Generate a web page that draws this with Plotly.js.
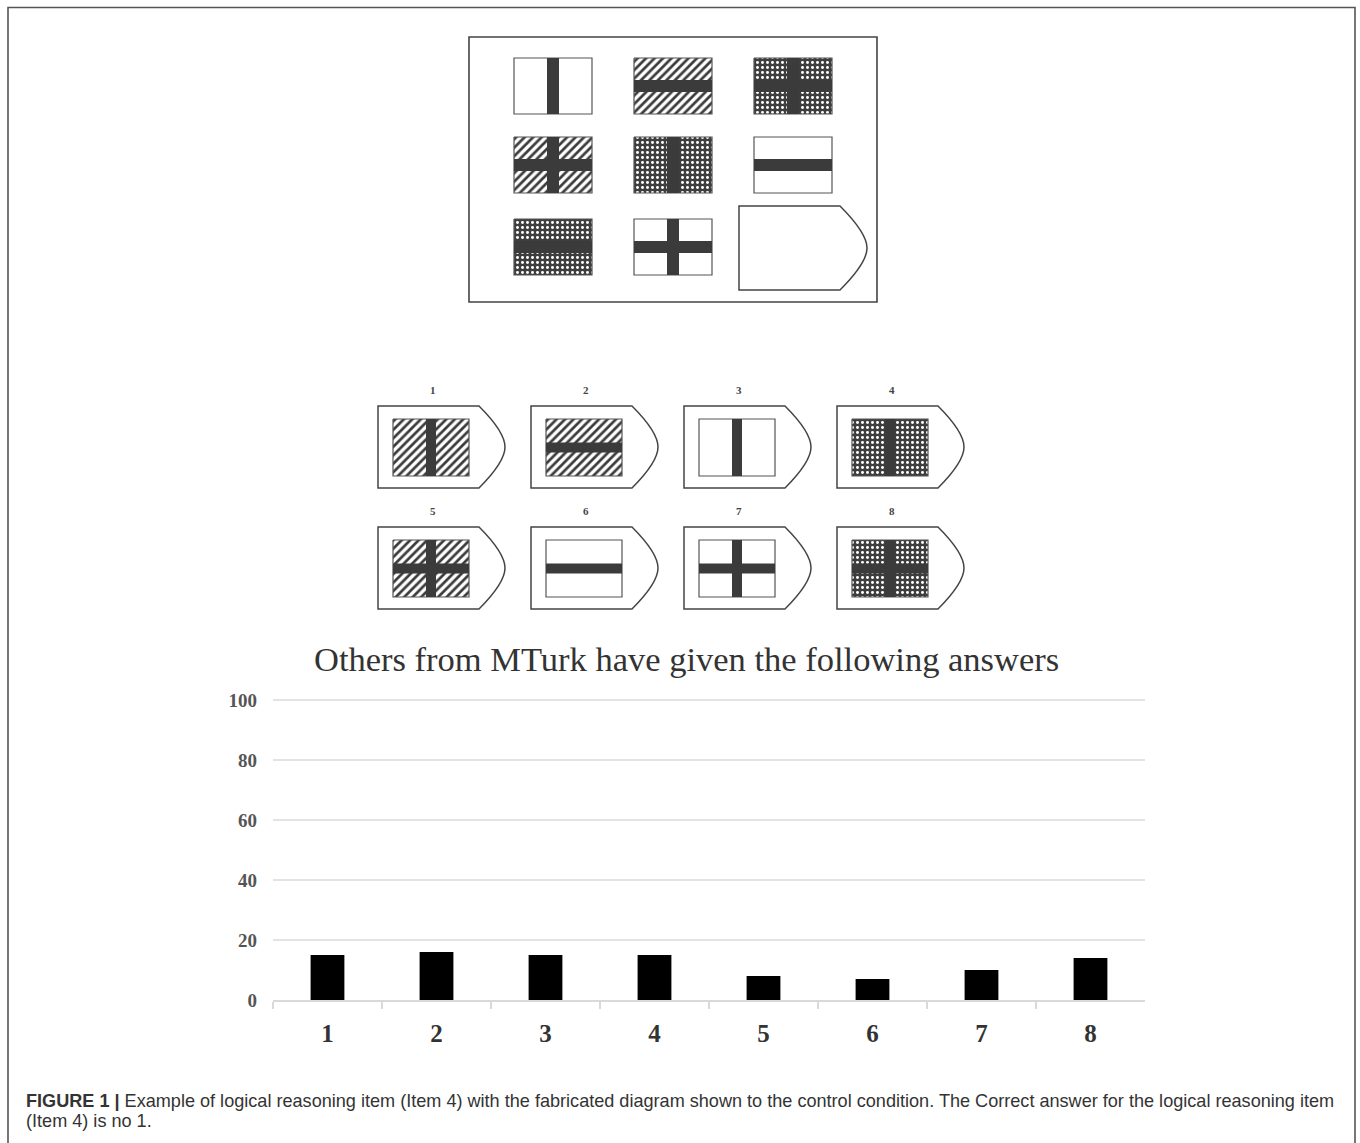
<!DOCTYPE html>
<html>
<head>
<meta charset="utf-8">
<script src="https://cdn.plot.ly/plotly-3.0.1.min.js"></script>
<style>
html,body{margin:0;padding:0;background:#fff;}
#chart{width:1360px;height:1143px;}
</style>
</head>
<body>
<div id="chart"></div>
<script>
// ---- data ----
const answerOptions = ['1', '2', '3', '4', '5', '6', '7', '8'];
const answerPercent = [15, 16, 15, 15, 8, 7, 10, 14];
const yTickVals = [0, 20, 40, 60, 80, 100];
const chartTitle = 'Others from MTurk have given the following answers';
const captionBold = 'FIGURE 1 |';
const captionLine1 = ' Example of logical reasoning item (Item 4) with the fabricated diagram shown to the control condition. The Correct answer for the logical reasoning item';
const captionLine2 = '(Item 4) is no 1.';

// puzzle matrix cells: [fill pattern, bar type]
const matrixCells = [
  ['plain', 'v'], ['hatch', 'h'], ['dots', 'c'],
  ['hatch', 'c'], ['dots', 'v'], ['plain', 'h'],
  ['dots', 'h'], ['plain', 'c'], null
];
// answer options: [fill pattern, bar type]
const answerCells = [
  ['hatch', 'v'], ['hatch', 'h'], ['plain', 'v'], ['dots', 'v'],
  ['hatch', 'c'], ['plain', 'h'], ['plain', 'c'], ['dots', 'c']
];

// ---- page geometry ----
const W = 1360, H = 1143;
const DARK = '#3b3b3b';
const SERIF = 'Liberation Serif, Times New Roman, serif';
const SANS = 'Liberation Sans, Arial, sans-serif';
const Y_MAX = 101;

const traces = [];
const shapes = [];
const annotations = [];

// bar chart
traces.push({
  type: 'bar',
  x: answerOptions,
  y: answerPercent,
  width: 0.31,
  marker: {color: '#000000', line: {width: 0}},
  xaxis: 'x', yaxis: 'y',
  hoverinfo: 'x+y',
  showlegend: false
});

function pattern(kind) {
  if (kind === 'hatch') return {shape: '/', fgcolor: DARK, bgcolor: '#ffffff', size: 6, solidity: 0.45, fillmode: 'replace'};
  if (kind === 'dots') return {shape: '.', fgcolor: '#ffffff', bgcolor: '#3e3e3e', size: 5, solidity: 0.28, fillmode: 'replace'};
  return null;
}

function drawFlag(x, y, w, h, kind, bar, bw) {
  if (kind === 'plain') {
    shapes.push({type: 'rect', xref: 'x2', yref: 'y2', x0: x, x1: x + w, y0: y, y1: y + h,
      fillcolor: '#ffffff', line: {color: '#555', width: 1.2}, layer: 'below'});
  } else {
    traces.push({
      type: 'scatter', mode: 'lines', xaxis: 'x2', yaxis: 'y2',
      x: [x, x + w, x + w, x, x], y: [y, y, y + h, y + h, y],
      fill: 'toself', fillcolor: kind === 'dots' ? '#3e3e3e' : '#ffffff',
      fillpattern: pattern(kind),
      line: {color: '#555', width: 1.2},
      hoverinfo: 'skip', showlegend: false
    });
  }
  if (bar === 'v' || bar === 'c') {
    shapes.push({type: 'rect', xref: 'x2', yref: 'y2', x0: x + w / 2 - bw / 2, x1: x + w / 2 + bw / 2,
      y0: y, y1: y + h, fillcolor: DARK, line: {width: 0}, layer: 'above'});
  }
  if (bar === 'h' || bar === 'c') {
    shapes.push({type: 'rect', xref: 'x2', yref: 'y2', x0: x, x1: x + w,
      y0: y + h / 2 - bw / 2, y1: y + h / 2 + bw / 2, fillcolor: DARK, line: {width: 0}, layer: 'above'});
  }
}

function tagPath(x, y, w, h, e) {
  const t = w, d = t - e;
  return `M${x},${y} L${x + e},${y} Q${x + t},${y + d} ${x + t},${y + h / 2} Q${x + t},${y + h - d} ${x + e},${y + h} L${x},${y + h} Z`;
}

// outer frame
shapes.push({type: 'path', xref: 'x2', yref: 'y2', path: `M8,1150 L8,7.5 L1355,7.5 L1355,1150`,
  line: {color: '#555', width: 1.6}, layer: 'below'});

// matrix box
shapes.push({type: 'rect', xref: 'x2', yref: 'y2', x0: 469, x1: 877, y0: 37, y1: 302,
  line: {color: '#444', width: 1.6}, fillcolor: 'rgba(0,0,0,0)', layer: 'below'});

const mColX = [514, 634, 754];
const mRowY = [58, 137, 219];
matrixCells.forEach((c, i) => {
  const r = Math.floor(i / 3), k = i % 3;
  if (c) {
    drawFlag(mColX[k], mRowY[r], 78, 56, c[0], c[1], 12);
  } else {
    shapes.push({type: 'path', xref: 'x2', yref: 'y2', path: tagPath(739, 206, 128, 84, 101),
      fillcolor: '#ffffff', line: {color: '#444', width: 1.5}, layer: 'below'});
  }
});

// answer options
const aColX = [378, 531, 684, 837];
const aRowY = [406, 527];
answerCells.forEach((c, i) => {
  const r = Math.floor(i / 4), k = i % 4;
  const x = aColX[k], y = aRowY[r];
  shapes.push({type: 'path', xref: 'x2', yref: 'y2', path: tagPath(x, y, 127, 82, 101),
    fillcolor: '#ffffff', line: {color: '#444', width: 1.5}, layer: 'below'});
  drawFlag(x + 15, y + 13, 76, 57, c[0], c[1], 10);
  annotations.push({xref: 'x2', yref: 'y2', x: x + 55, y: y - 16, text: '<b>' + answerOptions[i] + '</b>',
    showarrow: false, font: {family: SERIF, size: 11, color: '#444'}, xanchor: 'center', yanchor: 'middle'});
});

// chart title
annotations.push({xref: 'paper', yref: 'paper', x: 686 / W, y: 1 - 659 / H, text: chartTitle,
  showarrow: false, xanchor: 'center', yanchor: 'middle',
  font: {family: SERIF, size: 34.5, color: '#333'}});

// caption
annotations.push({xref: 'paper', yref: 'paper', x: 24 / W, y: 1 - 1101 / H,
  text: '<b>' + captionBold + '</b>' + captionLine1,
  showarrow: false, xanchor: 'left', yanchor: 'middle', align: 'left',
  font: {family: SANS, size: 18.1, color: '#333'}});
annotations.push({xref: 'paper', yref: 'paper', x: 24 / W, y: 1 - 1121 / H,
  text: captionLine2,
  showarrow: false, xanchor: 'left', yanchor: 'middle', align: 'left',
  font: {family: SANS, size: 18.1, color: '#333'}});

const layout = {
  width: W, height: H,
  margin: {l: 0, r: 0, t: 0, b: 0, pad: 0},
  paper_bgcolor: '#ffffff',
  plot_bgcolor: 'rgba(0,0,0,0)',
  showlegend: false,
  xaxis: {
    domain: [273 / W, 1145 / W],
    type: 'category',
    range: [-0.5, 7.5],
    showgrid: false,
    showline: true, linecolor: '#d9d9d9', linewidth: 1.5,
    ticks: 'outside', tickson: 'boundaries', ticklen: 7, tickcolor: '#d9d9d9', tickwidth: 1.5,
    tickfont: {family: SERIF, size: 25, color: '#333', weight: 'bold'},
    ticklabelstandoff: 10,
    fixedrange: true
  },
  yaxis: {
    domain: [1 - 1000 / H, 1 - (1000 - Y_MAX * 3) / H],
    range: [0, Y_MAX],
    tickvals: yTickVals,
    showgrid: true, gridcolor: '#e3e3e3', gridwidth: 1.5,
    zeroline: false,
    showline: false,
    ticks: '',
    tickfont: {family: SERIF, size: 19, color: '#555', weight: 'bold'},
    ticklabelstandoff: 15,
    fixedrange: true
  },
  xaxis2: {domain: [0, 1], range: [0, W], anchor: 'y2', visible: false, fixedrange: true},
  yaxis2: {domain: [0, 1], range: [H, 0], anchor: 'x2', visible: false, fixedrange: true},
  shapes: shapes,
  annotations: annotations
};

Plotly.newPlot('chart', traces, layout, {displayModeBar: false, staticPlot: true});
</script>
</body>
</html>
